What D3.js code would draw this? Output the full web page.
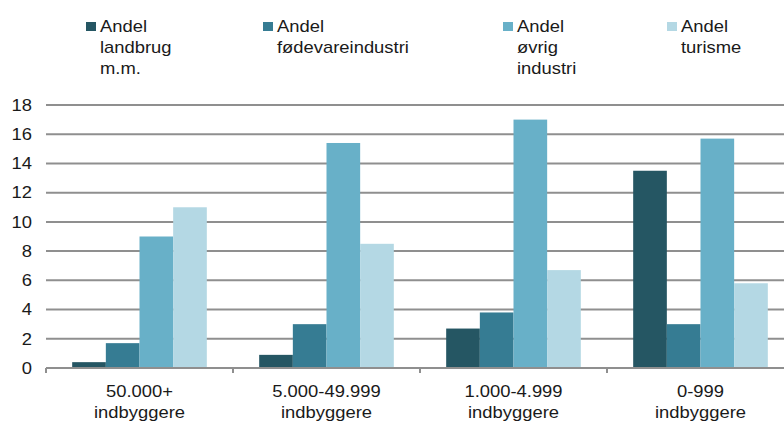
<!DOCTYPE html>
<html>
<head>
<meta charset="utf-8">
<script src="https://cdn.jsdelivr.net/npm/d3@7"></script>
<style>
  html, body { margin: 0; padding: 0; background: #fff; overflow: hidden; }
  svg { display: block; }
  text { font-family: "Liberation Sans", Arial, sans-serif; fill: #1a1a1a; }
</style>
</head>
<body>
<svg id="chart"></svg>
<script>
// ---- data ----
const categories = [["50.000+", "indbyggere"], ["5.000-49.999", "indbyggere"], ["1.000-4.999", "indbyggere"], ["0-999", "indbyggere"]];
const seriesNames = [["Andel", "landbrug", "m.m."], ["Andel", "fødevareindustri"], ["Andel", "øvrig", "industri"], ["Andel", "turisme"]];
const landbrug = [0.4, 0.9, 2.7, 13.5];
const foedevare = [1.7, 3.0, 3.8, 3.0];
const oevrig = [9.0, 15.4, 17.0, 15.7];
const turisme = [11.0, 8.5, 6.7, 5.8];
const yTicks = [0, 2, 4, 6, 8, 10, 12, 14, 16, 18];
const colors = ["#255663", "#367c93", "#68b0c8", "#b4d8e4"];

const series = [landbrug, foedevare, oevrig, turisme];

// ---- layout ----
const W = 784, H = 421;
const SX = 1.15; // horizontal stretch of the original rendering
const px = v => v / SX;

const svg = d3.select("#chart")
  .attr("width", W).attr("height", H)
  .attr("viewBox", `0 0 ${W / SX} ${H}`)
  .attr("preserveAspectRatio", "none");

const x0 = d3.scaleBand()
  .domain(d3.range(categories.length))
  .range([px(46), px(794)])
  .paddingInner(0.28)
  .paddingOuter(0.14);

const x1 = d3.scaleBand()
  .domain(d3.range(series.length))
  .range([0, x0.bandwidth()]);

const y = d3.scaleLinear().domain([0, 18]).range([368, 105]);

// gridlines
svg.append("g")
  .selectAll("line")
  .data(yTicks.filter(d => d > 0))
  .join("line")
  .attr("x1", px(46)).attr("x2", px(794))
  .attr("y1", d => y(d)).attr("y2", d => y(d))
  .attr("stroke", "#8f8f8f").attr("stroke-width", 2);

// bars
const groups = svg.append("g")
  .selectAll("g")
  .data(categories.map((c, i) => i))
  .join("g")
  .attr("transform", i => `translate(${x0(i)},0)`);

groups.selectAll("rect")
  .data(i => series.map((s, j) => ({ j, v: s[i] })))
  .join("rect")
  .attr("x", d => x1(d.j))
  .attr("width", x1.bandwidth())
  .attr("y", d => y(d.v))
  .attr("height", d => y(0) - y(d.v))
  .attr("fill", d => colors[d.j]);

// x axis baseline and ticks
svg.append("line")
  .attr("x1", px(46)).attr("x2", px(794))
  .attr("y1", y(0)).attr("y2", y(0))
  .attr("stroke", "#8f8f8f").attr("stroke-width", 2);

const step = x0.step();
const boundaries = d3.range(categories.length + 1).map(i => px(46) + i * step);
svg.append("g")
  .selectAll("line")
  .data(boundaries)
  .join("line")
  .attr("x1", d => d).attr("x2", d => d)
  .attr("y1", y(0)).attr("y2", y(0) + 5)
  .attr("stroke", "#8f8f8f").attr("stroke-width", 2 / SX);

// category labels
const catLabels = svg.append("g")
  .selectAll("text")
  .data(categories.map((c, i) => i))
  .join("text")
  .attr("text-anchor", "middle")
  .attr("font-size", 16)
  .attr("x", i => x0(i) + x0.bandwidth() / 2);
catLabels.selectAll("tspan")
  .data(i => categories[i].map((t, k) => ({ t, k, i })))
  .join("tspan")
  .attr("x", d => x0(d.i) + x0.bandwidth() / 2)
  .attr("y", d => 397 + d.k * 21)
  .text(d => d.t);

// y labels
svg.append("g")
  .selectAll("text")
  .data(yTicks)
  .join("text")
  .attr("x", px(32))
  .attr("y", d => y(d))
  .attr("dy", "0.36em")
  .attr("text-anchor", "end")
  .attr("font-size", 16)
  .text(d => d);

// legend
const legendX = [86, 263, 503, 667];
const leg = svg.append("g")
  .selectAll("g")
  .data(seriesNames.map((n, j) => j))
  .join("g");
leg.append("rect")
  .attr("x", j => px(legendX[j]))
  .attr("y", 22)
  .attr("width", px(10))
  .attr("height", 9)
  .attr("fill", j => colors[j]);
const legText = leg.append("text").attr("font-size", 16);
legText.selectAll("tspan")
  .data(j => seriesNames[j].map((t, k) => ({ t, k, j })))
  .join("tspan")
  .attr("x", d => px(legendX[d.j] + 14))
  .attr("y", d => 32 + d.k * 21)
  .text(d => d.t);
</script>
</body>
</html>
